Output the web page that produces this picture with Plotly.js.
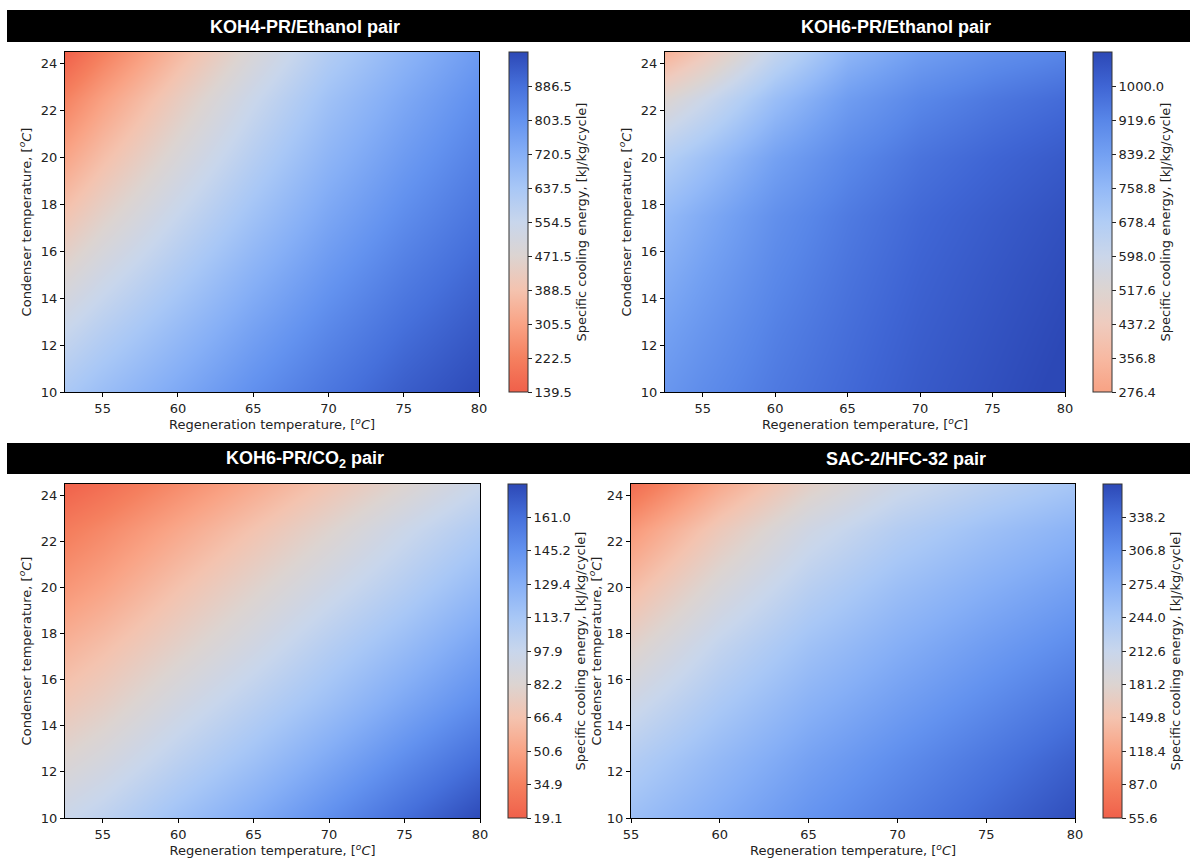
<!DOCTYPE html>
<html>
<head>
<meta charset="utf-8">
<script src="https://cdn.plot.ly/plotly-3.0.1.min.js"></script>
<style>
  html, body { margin: 0; padding: 0; background: #ffffff; }
  #chart { width: 1190px; height: 859px; }
</style>
</head>
<body>
<div id="chart"></div>
<script>
// ---------------- data ----------------
const regenTempA = [52.5, 55, 60, 65, 70, 75, 80];          // panels 1-3, °C
const regenTempSAC = [55, 60, 65, 70, 75, 80];              // panel 4, °C
const condTemp = [10, 12.5, 15, 17.5, 20, 22.5, 24.5];      // °C

// Specific cooling energy [kJ/kg/cycle], rows follow condTemp, columns follow regen temp
const energyKOH4Eth = [
  [630, 670, 740, 810, 870, 925, 965],
  [557, 603, 683, 762, 831, 891, 937],
  [478, 531, 622, 711, 789, 855, 908],
  [395, 454, 558, 656, 745, 817, 876],
  [312, 378, 493, 602, 701, 779, 845],
  [228, 301, 428, 548, 657, 740, 813],
  [140, 220, 360, 490, 610, 700, 780]
];
const energyKOH6Eth = [
  [870, 900, 950, 990, 1030, 1060, 1090],
  [838, 872, 933, 978, 1019, 1050, 1080],
  [800, 840, 912, 964, 1007, 1039, 1069],
  [757, 803, 889, 948, 993, 1025, 1055],
  [670, 725, 835, 912, 965, 1000, 1030],
  [520, 590, 740, 850, 915, 955, 985],
  [330, 420, 620, 770, 845, 890, 920]
];
const energyKOH6CO2 = [
  [97, 103, 118, 132, 147, 162, 176],
  [83, 89, 104, 118, 133, 148, 162],
  [70, 76, 91, 105, 119, 134, 148],
  [58, 64, 78, 92, 107, 121, 136],
  [45, 51, 66, 80, 94, 108, 123],
  [33, 39, 53, 67, 81, 96, 110],
  [20, 26, 40, 54, 68, 82, 97]
];
const energySAC = [
  [255, 280, 305, 325, 345, 365],
  [233, 263, 290, 311, 331, 351],
  [205, 241, 271, 293, 313, 333],
  [175, 218, 251, 275, 295, 313],
  [143, 190, 228, 255, 275, 293],
  [109, 160, 203, 232, 253, 271],
  [68, 125, 172, 205, 226, 245]
];

// colour-bar tick labels
const ticksKOH4Eth = [139.5, 222.5, 305.5, 388.5, 471.5, 554.5, 637.5, 720.5, 803.5, 886.5];
const ticksKOH6Eth = [276.4, 356.8, 437.2, 517.6, 598.0, 678.4, 758.8, 839.2, 919.6, 1000.0];
const ticksKOH6CO2 = [19.1, 34.9, 50.6, 66.4, 82.2, 97.9, 113.7, 129.4, 145.2, 161.0];
const ticksSAC = [55.6, 87.0, 118.4, 149.8, 181.2, 212.6, 244.0, 275.4, 306.8, 338.2];
const ranges = {
  KOH4Eth: [139.5, 969.5],
  KOH6Eth: [276.4, 1080.4],
  KOH6CO2: [19.1, 176.8],
  SAC: [55.6, 369.6]
};
const xTicks = [55, 60, 65, 70, 75, 80];
const yTicks = [10, 12, 14, 16, 18, 20, 22, 24];
const panelTitles = ["KOH4-PR/Ethanol pair", "KOH6-PR/Ethanol pair",
                     "KOH6-PR/CO<sub>2</sub> pair", "SAC-2/HFC-32 pair"];

// ---------------- styling ----------------
const W = 1190, H = 859;
const fx = px => px / W;
const fy = px => 1 - px / H;

const baseScale = [
  [0.0, '#f0604a'], [0.1, '#f5805f'], [0.2, '#f9a385'], [0.3, '#f4c3af'],
  [0.4, '#dcd4d1'], [0.5, '#c8d6ec'], [0.6, '#a8c7f6'], [0.7, '#86aff6'],
  [0.8, '#6392ef'], [0.9, '#4670db'], [1.0, '#2c48b6']
];
const scaleKOH6Eth = [
  [0.0, '#f8a284'], [0.1, '#f7b9a2'], [0.2, '#efcbbe'], [0.3, '#dcd4d1'],
  [0.4, '#cad6ea'], [0.5, '#b1cdf5'], [0.6, '#93b9f7'], [0.7, '#73a0f2'],
  [0.8, '#5886e8'], [0.9, '#3f65d4'], [1.0, '#2c48b6']
];

const tickFont = {family: 'DejaVu Sans', size: 13, color: '#222222'};
const titleFont = {family: 'DejaVu Sans', size: 13, color: '#222222'};
const degUnit = ', [<sup><i>o</i></sup><i>C</i>]';

// pixel boxes of each plot area [left, right, top, bottom] and colorbar left edge
const panels = [
  {x: regenTempA, z: energyKOH4Eth, ticks: ticksKOH4Eth, r: ranges.KOH4Eth, cs: baseScale,
   box: [65, 479, 52, 392], cb: 509, xr: [52.5, 80], titleX: 305, titleY: 27, ystand: 6},
  {x: regenTempA, z: energyKOH6Eth, ticks: ticksKOH6Eth, r: ranges.KOH6Eth, cs: scaleKOH6Eth,
   box: [665, 1065, 52, 392], cb: 1093, xr: [52.4, 80], titleX: 896, titleY: 27, ystand: 6},
  {x: regenTempA, z: energyKOH6CO2, ticks: ticksKOH6CO2, r: ranges.KOH6CO2, cs: baseScale,
   box: [65, 480, 484, 818], cb: 508, xr: [52.5, 80], titleX: 305, titleY: 459, ystand: 6},
  {x: regenTempSAC, z: energySAC, ticks: ticksSAC, r: ranges.SAC, cs: baseScale,
   box: [631, 1075, 484, 818], cb: 1103, xr: [55, 80], titleX: 906, titleY: 459, ystand: 2}
];

const data = [];
const layout = {
  width: W, height: H,
  margin: {l: 0, r: 0, t: 0, b: 0},
  paper_bgcolor: '#ffffff', plot_bgcolor: '#ffffff',
  showlegend: false,
  shapes: [
    {type: 'rect', xref: 'paper', yref: 'paper', x0: fx(7), x1: 1, y0: fy(42), y1: fy(10),
     fillcolor: '#000000', line: {width: 0}, layer: 'below'},
    {type: 'rect', xref: 'paper', yref: 'paper', x0: fx(7), x1: 1, y0: fy(474), y1: fy(443),
     fillcolor: '#000000', line: {width: 0}, layer: 'below'}
  ],
  annotations: []
};

panels.forEach((p, i) => {
  const n = i === 0 ? '' : String(i + 1);
  const [l, r, t, b] = p.box;
  data.push({
    type: 'heatmap',
    x: p.x, y: condTemp, z: p.z,
    zsmooth: 'best',
    zmin: p.r[0], zmax: p.r[1],
    colorscale: p.cs,
    xaxis: 'x' + n, yaxis: 'y' + n,
    hoverinfo: 'x+y+z',
    colorbar: {
      x: fx(p.cb), xanchor: 'left', xref: 'paper',
      y: fy(b), yanchor: 'bottom', yref: 'paper',
      len: (b - t) / H, lenmode: 'fraction',
      thickness: 19, thicknessmode: 'pixels',
      xpad: 0, ypad: 0,
      outlinewidth: 1, outlinecolor: '#333333',
      tickmode: 'array', tickvals: p.ticks,
      ticktext: p.ticks.map(v => v.toFixed(1)),
      ticks: 'outside', ticklen: 4, tickwidth: 1, tickcolor: '#222222',
      tickfont: tickFont,
      title: {text: 'Specific cooling energy, [kJ/kg/cycle]', side: 'right', font: titleFont}
    }
  });
  const axCommon = {
    showline: true, mirror: true, linecolor: '#000000', linewidth: 1,
    ticks: 'outside', ticklen: 4, tickwidth: 1, tickcolor: '#000000',
    showgrid: false, zeroline: false, tickfont: tickFont
  };
  layout['xaxis' + n] = Object.assign({}, axCommon, {
    domain: [fx(l), fx(r)], anchor: 'y' + n, range: p.xr,
    tickmode: 'array', tickvals: xTicks,
    title: {text: 'Regeneration temperature' + degUnit, font: titleFont, standoff: 4}
  });
  layout['yaxis' + n] = Object.assign({}, axCommon, {
    domain: [fy(b), fy(t)], anchor: 'x' + n, range: [10, 24.5],
    tickmode: 'array', tickvals: yTicks,
    title: {text: 'Condenser temperature' + degUnit, font: titleFont, standoff: p.ystand}
  });
  layout.annotations.push({
    xref: 'paper', yref: 'paper', x: fx(p.titleX), y: fy(p.titleY),
    xanchor: 'center', yanchor: 'middle', showarrow: false,
    text: '<b>' + panelTitles[i] + '</b>',
    font: {family: 'Liberation Sans, Arial, sans-serif', size: 18, color: '#ffffff'}
  });
});

Plotly.newPlot('chart', data, layout, {displayModeBar: false, staticPlot: false});
</script>
</body>
</html>
